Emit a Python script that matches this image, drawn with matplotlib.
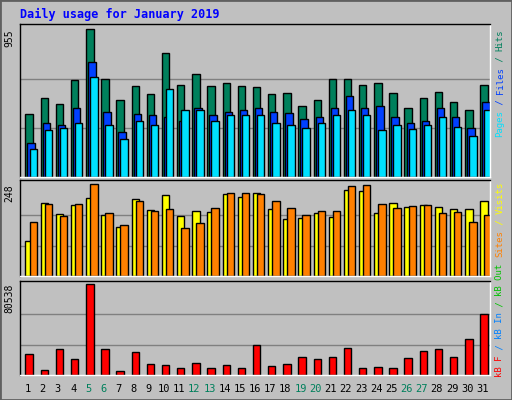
import matplotlib
matplotlib.use("Agg")
import matplotlib.pyplot as plt
import numpy as np

days = list(range(1, 32))
hits = [410,508,469,624,955,631,495,586,534,799,592,663,586,605,586,579,534,540,456,495,631,631,592,605,540,443,514,549,482,430,598]
files = [223,352,333,449,741,423,294,410,404,385,365,449,404,423,436,449,423,417,372,385,443,521,449,456,391,352,359,443,385,320,482]
pages = [184,307,320,346,644,333,248,359,333,566,436,436,365,398,398,398,352,339,320,346,404,430,404,307,333,313,339,391,326,268,436]
visits = [94,197,167,191,210,164,132,208,178,218,162,175,173,221,213,224,181,154,156,170,159,232,229,170,197,186,191,186,181,181,202]
sites = [146,194,162,194,248,170,137,202,175,181,129,143,183,224,224,221,202,183,164,175,175,243,245,194,183,189,191,170,173,146,164]
kbytes = [18516,4409,22925,14108,80538,22925,3527,20280,9700,8817,6172,10581,6172,8817,6172,26452,7935,9700,15871,14108,15871,23807,6172,7054,6172,14989,21161,22925,15871,31741,53785]
weekend = [5,6,12,13,19,20,26,27]

W, H = 512, 400
fig = plt.figure(figsize=(W/100, H/100), dpi=100)
fig.patch.set_facecolor("#C0C0C0")
fig.add_artist(plt.Rectangle((0, 0), 1, 1, transform=fig.transFigure, fill=False, edgecolor="#606060", lw=2))
mono = "DejaVu Sans Mono"

def mkax(top, bottom, maxv, peak_y):
    ax = fig.add_axes([20/W, (H-bottom)/H, 470/W, (bottom-top)/H])
    ax.set_facecolor("#C0C0C0")
    ymax = maxv * (bottom-top) / (bottom-peak_y)
    ax.set_ylim(0, ymax)
    ax.set_xlim(0.5, 31.5)
    for f in (1/3, 2/3):
        ax.axhline(maxv*f, color="#808080", lw=1, zorder=0)
    ax.set_xticks([]); ax.set_yticks([])
    for s in ax.spines.values():
        s.set_color("black"); s.set_linewidth(1)
    ax.spines["bottom"].set_color("white"); ax.spines["right"].set_color("white")
    ax.text(-0.012, 1 - (peak_y-top)/(bottom-top), str(maxv), transform=ax.transAxes,
            rotation=90, ha="right", va="top", fontsize=7, family=mono)
    return ax

x = np.array(days)
w = 0.49
ax1 = mkax(24, 177, 955, 29.3)
ax1.bar(x-0.14, hits, w, align="edge", color="#00805C", edgecolor="black", lw=1)
ax1.bar(x-0.007, files, w, align="edge", color="#0040FF", edgecolor="black", lw=1)
ax1.bar(x+0.127, pages, w, align="edge", color="#00E0FF", edgecolor="black", lw=1)

ax2 = mkax(180, 276.3, 248, 184.3)
ax2.bar(x-0.14, visits, w, align="edge", color="#FFFF00", edgecolor="black", lw=1)
ax2.bar(x+0.127, sites, w, align="edge", color="#FF8000", edgecolor="black", lw=1)

ax3 = mkax(281, 375.3, 80538, 284)
ax3.bar(x-0.14, kbytes, w, align="edge", color="#FF0000", edgecolor="black", lw=1)
for d in days:
    ax3.text(d, -0.14, str(d), transform=ax3.get_xaxis_transform(), ha="center", va="center",
             fontsize=7.5, family=mono, color="#00805C" if d in weekend else "black")

fig.text(20/W, 1-14/H, "Daily usage for January 2019", color="#0000FF", fontsize=8.5,
         fontweight="bold", family=mono, ha="left", va="center")

cw = 5.4
def side(bottom_y, parts):
    y = bottom_y
    for txt, col in parts:
        fig.text(500/W, (H-y)/H, txt, rotation=90, rotation_mode="anchor", ha="left", va="center",
                 fontsize=6.5, family=mono, color=col)
        y -= cw*len(txt)

side(137, [("Pages", "#00E0FF"), (" / ", "#0040FF"), ("Files", "#0040FF"), (" / ", "#00805C"), ("Hits", "#00805C")])
side(257, [("Sites", "#FF8000"), (" / ", "#FFFF00"), ("Visits", "#FFFF00")])
side(377, [("kB F", "#FF0000"), (" / ", "#0080FF"), ("kB In", "#0080FF"), (" / ", "#00C000"), ("kB Out", "#00C000")])

fig.savefig("out.png", dpi=100, facecolor=fig.get_facecolor())
